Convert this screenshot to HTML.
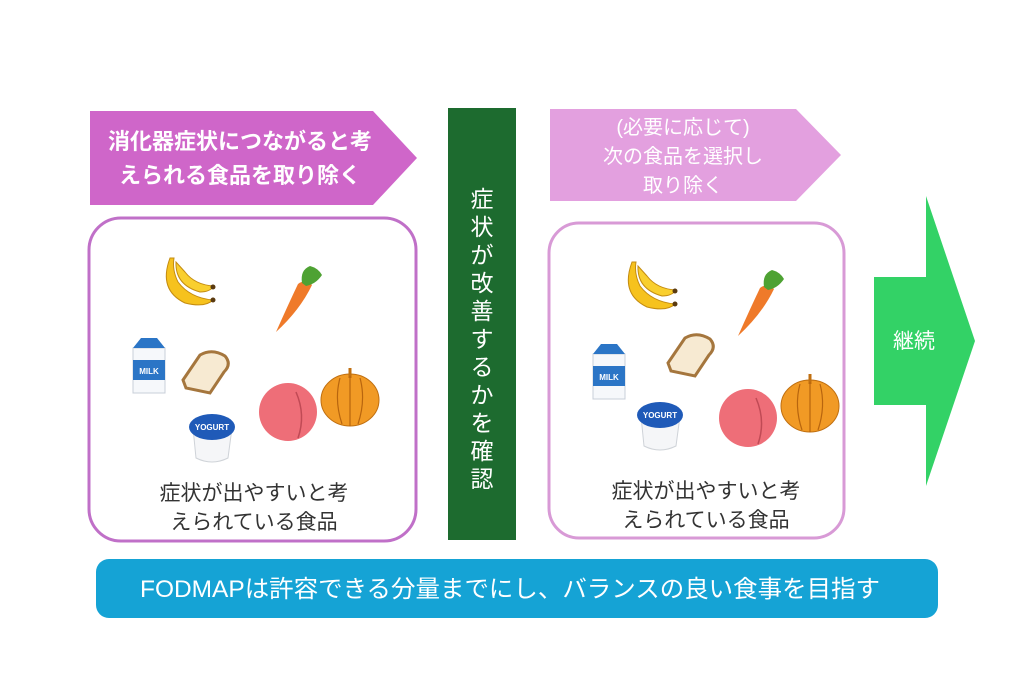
<!DOCTYPE html>
<html><head><meta charset="utf-8"><style>
html,body{margin:0;padding:0;background:#fff;}
svg{display:block;}
text{font-family:"Liberation Sans","Noto Sans CJK JP",sans-serif;}
</style></head><body>
<svg width="1024" height="685" viewBox="0 0 1024 685" xmlns="http://www.w3.org/2000/svg">
<!-- left arrow -->
<polygon points="90,111 373,111 417,158 373,205 90,205" fill="#cf66c9"/>
<text x="240" y="149" font-size="22" font-weight="bold" fill="#fff" text-anchor="middle">消化器症状につながると考</text>
<text x="240" y="183" font-size="22" font-weight="bold" fill="#fff" text-anchor="middle">えられる食品を取り除く</text>
<rect x="89" y="218" width="327" height="323" rx="32" fill="#fff" stroke="#c070c8" stroke-width="3"/>
<!-- green bar -->
<rect x="448" y="108" width="68" height="432" fill="#1d6b2f"/>
<text font-size="23" fill="#fff" text-anchor="middle">
<tspan x="482" y="207">症</tspan><tspan x="482" y="235">状</tspan><tspan x="482" y="263">が</tspan><tspan x="482" y="291">改</tspan><tspan x="482" y="319">善</tspan><tspan x="482" y="347">す</tspan><tspan x="482" y="375">る</tspan><tspan x="482" y="403">か</tspan><tspan x="482" y="431">を</tspan><tspan x="482" y="459">確</tspan><tspan x="482" y="487">認</tspan>
</text>
<!-- right arrow -->
<polygon points="550,109 796,109 841,155 796,201 550,201" fill="#e3a0df"/>
<text x="683" y="134" font-size="20" fill="#fff" text-anchor="middle">(必要に応じて)</text>
<text x="683" y="163" font-size="20" fill="#fff" text-anchor="middle">次の食品を選択し</text>
<text x="683" y="192" font-size="20" fill="#fff" text-anchor="middle">取り除く</text>
<rect x="549" y="223" width="295" height="315" rx="30" fill="#fff" stroke="#d89ad6" stroke-width="3"/>
<!-- continue arrow -->
<polygon points="874,277 926,277 926,196 975,341 926,486 926,405 874,405" fill="#33d266"/>
<text x="914" y="348" font-size="21" fill="#fff" text-anchor="middle">継続</text>
<!-- bottom bar -->
<rect x="96" y="559" width="842" height="59" rx="13" fill="#15a3d5"/>
<text x="140" y="597" font-size="24" fill="#fff" textLength="740" lengthAdjust="spacingAndGlyphs">FODMAPは許容できる分量までにし、バランスの良い食事を目指す</text>

<!-- captions -->
<text x="254" y="500" font-size="21" fill="#333" text-anchor="middle">症状が出やすいと考</text>
<text x="254" y="529" font-size="21" fill="#333" text-anchor="middle">えられている食品</text>
<text x="706" y="498" font-size="21" fill="#333" text-anchor="middle">症状が出やすいと考</text>
<text x="706" y="527" font-size="21" fill="#333" text-anchor="middle">えられている食品</text>

<!-- food left -->
<g id="foodL">
 <!-- banana -->
 <path d="M170,258 Q158,290 185,303 Q205,308 213,300 Q190,298 178,282 Q172,270 174,258Z" fill="#f6c21d" stroke="#c48c10" stroke-width="1"/>
 <path d="M176,262 Q175,285 200,292 Q210,292 214,286 Q195,285 185,272Z" fill="#f9cf2e" stroke="#c48c10" stroke-width="1"/>
 <circle cx="213" cy="287" r="2.5" fill="#5a3a10"/><circle cx="213" cy="300" r="2.5" fill="#5a3a10"/>
 <!-- carrot -->
 <path d="M276,332 Q300,310 312,285 Q306,278 298,284 Q288,305 276,332Z" fill="#ef7a2a"/>
 <path d="M302,283 Q300,270 310,266 Q318,268 322,275 Q316,284 306,286Z" fill="#4ea233"/>
 <!-- milk -->
 <rect x="133" y="348" width="32" height="45" fill="#f6f8fb" stroke="#c8cfd8"/>
 <polygon points="133,348 141,338 157,338 165,348" fill="#2b75c6"/>
 <rect x="133" y="360" width="32" height="20" fill="#2b75c6"/>
 <text x="149" y="374" font-size="8" font-weight="bold" fill="#fff" text-anchor="middle">MILK</text>
 <!-- bread -->
 <path d="M183,380 L200,355 Q212,348 225,356 Q232,364 224,372 L210,393 L186,388Z" fill="#f7ead2" stroke="#a5763d" stroke-width="3"/>
 <!-- yogurt -->
 <path d="M193,428 L196,458 Q212,466 228,458 L232,428Z" fill="#f5f6f8" stroke="#cfd3d8"/>
 <ellipse cx="212" cy="427" rx="23" ry="13" fill="#1f5ab8"/>
 <text x="212" y="430" font-size="8" font-weight="bold" fill="#fff" text-anchor="middle">YOGURT</text>
 <!-- peach -->
 <circle cx="288" cy="412" r="29" fill="#ee6e78"/>
 <path d="M296,392 Q306,415 298,438" stroke="#c04a55" stroke-width="1.5" fill="none"/>
 <!-- onion -->
 <ellipse cx="350" cy="400" rx="29" ry="26" fill="#f19a25" stroke="#c06f10"/>
 <path d="M350,368 L350,378" stroke="#c06f10" stroke-width="3"/>
 <path d="M340,378 Q334,400 342,424 M360,378 Q366,400 358,424 M350,376 L350,426" stroke="#b8650e" stroke-width="1.2" fill="none"/>
</g>
<g transform="translate(462,4)">
 <path d="M170,258 Q158,290 185,303 Q205,308 213,300 Q190,298 178,282 Q172,270 174,258Z" fill="#f6c21d" stroke="#c48c10" stroke-width="1"/>
 <path d="M176,262 Q175,285 200,292 Q210,292 214,286 Q195,285 185,272Z" fill="#f9cf2e" stroke="#c48c10" stroke-width="1"/>
 <circle cx="213" cy="287" r="2.5" fill="#5a3a10"/><circle cx="213" cy="300" r="2.5" fill="#5a3a10"/>
 <path d="M276,332 Q300,310 312,285 Q306,278 298,284 Q288,305 276,332Z" fill="#ef7a2a"/>
 <path d="M302,283 Q300,270 310,266 Q318,268 322,275 Q316,284 306,286Z" fill="#4ea233"/>
</g>
<g transform="translate(460,6)">
 <rect x="133" y="348" width="32" height="45" fill="#f6f8fb" stroke="#c8cfd8"/>
 <polygon points="133,348 141,338 157,338 165,348" fill="#2b75c6"/>
 <rect x="133" y="360" width="32" height="20" fill="#2b75c6"/>
 <text x="149" y="374" font-size="8" font-weight="bold" fill="#fff" text-anchor="middle">MILK</text>
</g>
<g transform="translate(485,-17)">
 <path d="M183,380 L200,355 Q212,348 225,356 Q232,364 224,372 L210,393 L186,388Z" fill="#f7ead2" stroke="#a5763d" stroke-width="3"/>
</g>
<g transform="translate(448,-12)">
 <path d="M193,428 L196,458 Q212,466 228,458 L232,428Z" fill="#f5f6f8" stroke="#cfd3d8"/>
 <ellipse cx="212" cy="427" rx="23" ry="13" fill="#1f5ab8"/>
 <text x="212" y="430" font-size="8" font-weight="bold" fill="#fff" text-anchor="middle">YOGURT</text>
</g>
<g transform="translate(460,6)">
 <circle cx="288" cy="412" r="29" fill="#ee6e78"/>
 <path d="M296,392 Q306,415 298,438" stroke="#c04a55" stroke-width="1.5" fill="none"/>
 <ellipse cx="350" cy="400" rx="29" ry="26" fill="#f19a25" stroke="#c06f10"/>
 <path d="M350,368 L350,378" stroke="#c06f10" stroke-width="3"/>
 <path d="M340,378 Q334,400 342,424 M360,378 Q366,400 358,424 M350,376 L350,426" stroke="#b8650e" stroke-width="1.2" fill="none"/>
</g>
</svg>
</body></html>
